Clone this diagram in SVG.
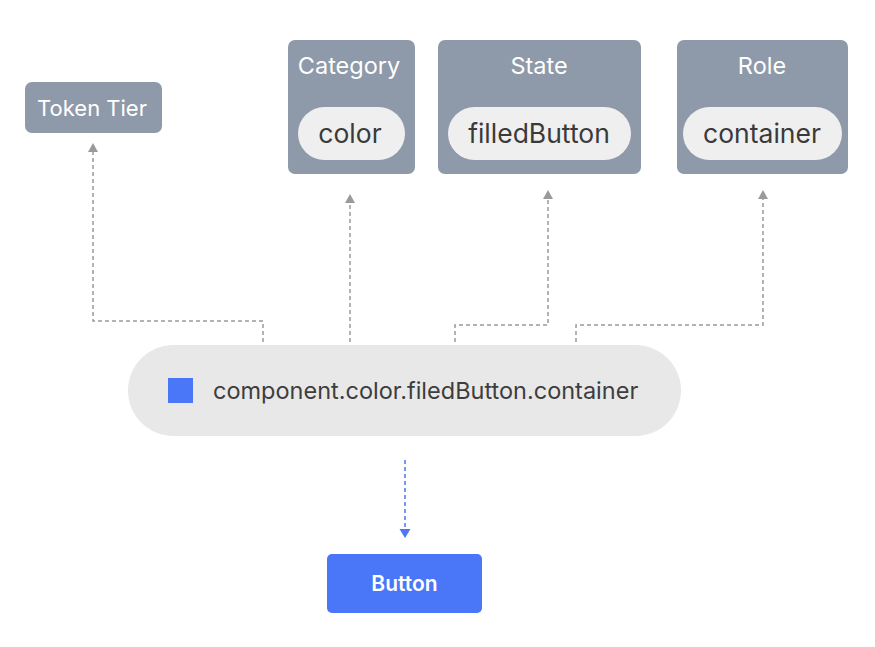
<svg xmlns="http://www.w3.org/2000/svg" width="875" height="647" viewBox="0 0 875 647">
<defs>
<style>
.node{fill:#8e99a9}
.hdr{font-family:Inter,"Liberation Sans",sans-serif;font-size:23.5px;fill:#ffffff;text-anchor:middle}
.pill{fill:#efefef}
.ptxt{font-family:Inter,"Liberation Sans",sans-serif;font-size:26.5px;fill:#3a3a3a;text-anchor:middle}
.conn{fill:none;stroke:#9a9a9a;stroke-width:1.5;stroke-dasharray:4 3}
.connb{fill:none;stroke:#4a76f8;stroke-width:1.5;stroke-dasharray:4 3}
</style>
</defs>
<rect width="875" height="647" fill="#ffffff"/>
<g id="connectors">
<path class="conn" d="M263,342 V321 H93 V152"/>
<polygon points="88,152 98,152 93,143" fill="#9a9a9a"/>
<path class="conn" d="M350,342 V203"/>
<polygon points="345,203 355,203 350,194" fill="#9a9a9a"/>
<path class="conn" d="M455,342 V325 H548 V199"/>
<polygon points="543,199 553,199 548,190" fill="#9a9a9a"/>
<path class="conn" d="M576,342 V325 H763 V199"/>
<polygon points="758,199 768,199 763,190" fill="#9a9a9a"/>
<path class="connb" d="M405,460 V529"/>
<polygon points="399.5,529 410.5,529 405,538" fill="#4a76f8"/>
</g>
<g id="token-tier">
<rect class="node" x="25" y="82" width="137" height="51" rx="7"/>
<text class="hdr" x="92" y="116" style="font-size:22px">Token Tier</text>
</g>
<g id="category">
<rect class="node" x="288" y="40" width="127" height="134" rx="7"/>
<text class="hdr" x="349" y="74">Category</text>
<rect class="pill" x="298" y="107" width="107" height="53" rx="26.5"/>
<text class="ptxt" x="350" y="143">color</text>
</g>
<g id="state">
<rect class="node" x="438" y="40" width="203" height="134" rx="7"/>
<text class="hdr" x="539" y="74">State</text>
<rect class="pill" x="448" y="107" width="183" height="53" rx="26.5"/>
<text class="ptxt" x="539" y="143">filledButton</text>
</g>
<g id="role">
<rect class="node" x="677" y="40" width="171" height="134" rx="7"/>
<text class="hdr" x="762" y="74">Role</text>
<rect class="pill" x="683" y="107" width="159" height="53" rx="26.5"/>
<text class="ptxt" x="762" y="143">container</text>
</g>
<g id="token">
<rect x="128" y="345" width="553" height="91" rx="45.5" fill="#e8e8e8"/>
<rect x="168" y="378" width="25" height="25" fill="#4a76f8"/>
<text x="213" y="399" font-family="Inter,'Liberation Sans',sans-serif" font-size="23.5" fill="#3d3d3d">component.color.filedButton.container</text>
</g>
<g id="button">
<rect x="327" y="554" width="155" height="59" rx="5" fill="#4a76f8"/>
<text x="404.5" y="591" font-family="Inter,'Liberation Sans',sans-serif" font-size="21" font-weight="600" fill="#ffffff" text-anchor="middle">Button</text>
</g>
</svg>
